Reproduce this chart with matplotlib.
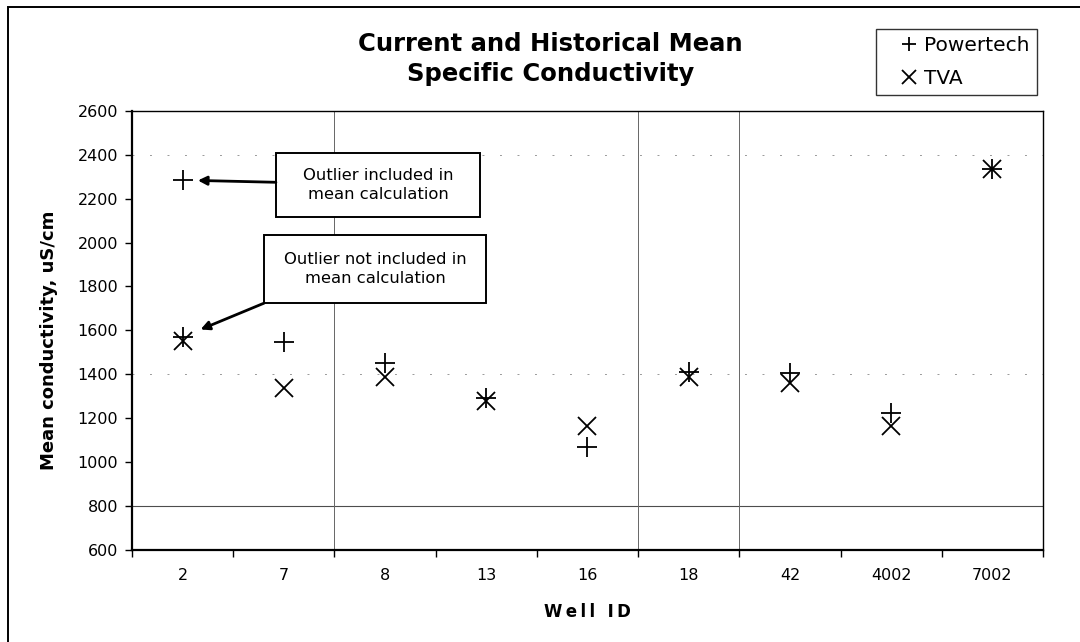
import matplotlib.pyplot as plt
from matplotlib.patches import Rectangle

# data
wells = ['2', '7', '8', '13', '16', '18', '42', '4002', '7002']
powertech = [1570, 1545, 1450, 1290, 1070, 1410, 1405, 1222, 2335]
tva = [1553, 1338, 1385, 1280, 1165, 1385, 1362, 1165, 2335]
outlier_well = '2'
outlier_value = 2285

plt.rcParams['font.family'] = ['DejaVu Sans']

fig = plt.figure(figsize=(10.8, 6.42), dpi=100)
ax = fig.add_axes([0.1222, 0.1438, 0.8435, 0.6833])

xs = list(range(len(wells)))
ax.plot(xs, powertech, linestyle='none', marker='+', markersize=14,
        markeredgewidth=1.3, color='black', label='Powertech')
ax.plot(xs, tva, linestyle='none', marker='x', markersize=13.5,
        markeredgewidth=1.3, color='black', label='TVA')
ax.plot([wells.index(outlier_well)], [outlier_value], linestyle='none',
        marker='+', markersize=14, markeredgewidth=1.3, color='black')

ax.set_xlim(-0.5, len(wells) - 0.5)
ax.set_ylim(600, 2600)
ax.set_yticks(range(600, 2601, 200))

# ticks sit on the category boundaries, labels in the middle
ax.set_xticks([i - 0.5 for i in range(len(wells) + 1)])
ax.set_xticklabels([])
ax.set_xticks(xs, minor=True)
ax.set_xticklabels(wells, minor=True)
ax.tick_params(axis='x', which='minor', length=0, pad=13, labelsize=11.5)
ax.tick_params(axis='x', which='major', length=5, direction='out', width=1)
ax.tick_params(axis='y', length=5, direction='out', width=1, labelsize=11.5, pad=5)

for s in ax.spines.values():
    s.set_color('black')
    s.set_linewidth(1.0)
ax.spines['left'].set_linewidth(1.6)
ax.spines['bottom'].set_linewidth(1.6)

# leftover grid lines from the scan
ax.axhline(800, color='0.3', linewidth=0.8, zorder=0)
for b in [1.5, 4.5, 5.5]:
    ax.axvline(b, color='0.4', linewidth=0.7, zorder=0)
for g in [1400, 2400]:
    ax.axhline(g, color='0.6', linewidth=0.7, linestyle=(0, (2, 16)), zorder=0)

ax.set_ylabel('Mean conductivity, uS/cm', fontsize=13, fontweight='bold')
ax.yaxis.set_label_coords(-0.081, 0.478)
ax.set_xlabel('W\u2009e\u2009l\u2009l\u2009 \u2009I\u2009D', fontsize=12, fontweight='bold')
ax.xaxis.set_label_coords(0.4995, -0.1215)

fig.text(0.510, 0.908, 'Current and Historical Mean\nSpecific Conductivity',
         ha='center', va='center', fontsize=17.5, fontweight='bold',
         linespacing=1.3)

leg = fig.legend(loc='upper right', bbox_to_anchor=(0.960, 0.955), fontsize=14.5,
                 frameon=True, fancybox=False, edgecolor='black',
                 handlelength=2.6, handletextpad=-0.55, borderpad=0.35,
                 labelspacing=0.7, markerscale=0.7, borderaxespad=0)
leg.get_frame().set_linewidth(1.0)

# annotation boxes (axes fraction) with arrows to the well 2 points
boxes = [((0.158, 0.758), 0.224, 0.146, 'Outlier included in\nmean calculation'),
         ((0.145, 0.562), 0.244, 0.155, 'Outlier not included in\nmean calculation')]
for (x0, y0), w, h, txt in boxes:
    ax.add_patch(Rectangle((x0, y0), w, h, transform=ax.transAxes, facecolor='white',
                           edgecolor='black', linewidth=1.4, zorder=3))
    ax.text(x0 + w / 2, y0 + h / 2, txt, transform=ax.transAxes, ha='center',
            va='center', fontsize=11.8, linespacing=1.3, zorder=4)

arrow = dict(arrowstyle='-|>', color='black', linewidth=2.0, mutation_scale=13,
             shrinkA=0, shrinkB=11)
ax.annotate('', xy=(0, outlier_value), xycoords='data',
            xytext=(boxes[0][0][0], 0.8375),
            textcoords='axes fraction', arrowprops=arrow)
ax.annotate('', xy=(0, powertech[0]), xycoords='data',
            xytext=boxes[1][0], textcoords='axes fraction',
            arrowprops=dict(arrow, shrinkB=14))

# outer chart border
fig.patches.append(Rectangle((0.0075, -0.05), 1.1, 1.039, transform=fig.transFigure,
                             fill=False, edgecolor='black', linewidth=1.4))

fig.savefig('out.png', dpi=100)
